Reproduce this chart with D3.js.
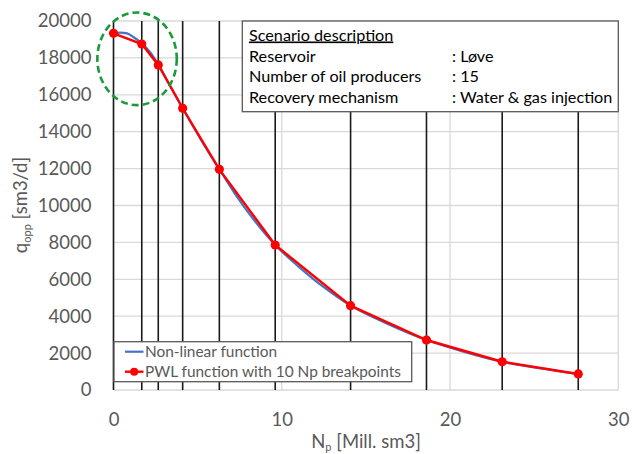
<!DOCTYPE html>
<html>
<head>
<meta charset="utf-8">
<script src="https://cdn.jsdelivr.net/npm/d3@7/dist/d3.min.js"></script>
<style>
  html, body { margin: 0; padding: 0; background: #fff; }
  svg { display: block; font-family: Lato, "Open Sans", sans-serif; }
</style>
</head>
<body>
<svg id="chart" width="643" height="454"></svg>
<script>
// Cumulative oil production breakpoints (Mill. sm3) and PWL rates (sm3/d)
const npBreakpoints = [0, 1.68, 2.66, 4.11, 6.29, 9.61, 14.09, 18.6, 23.1, 27.62];
const pwlRates      = [19330, 18750, 17620, 15270, 11960, 7860, 4570, 2710, 1530, 870];

// Non-linear potential curve samples
const curveNp   = [0, 0.4, 0.8, 1.2, 1.68, 2.2, 2.66, 3.4, 4.11, 5.2, 6.29, 7.2, 8.4, 9.61,
                   11, 12.5, 14.09, 16.3, 18.6, 20.8, 23.1, 25.4, 27.62];
const curveRate = [19300, 19370, 19330, 19120, 18790, 18290, 17650, 16440, 15270, 13560, 11960,
                   10660, 9160, 7860, 6690, 5570, 4570, 3580, 2710, 2080, 1530, 1170, 867];

const xTicks = [0, 10, 20, 30];
const yTicks = [0, 2000, 4000, 6000, 8000, 10000, 12000, 14000, 16000, 18000, 20000];

const scenarioTitle = "Scenario description";
const scenarioRows = [
  ["Reservoir", ": Løve"],
  ["Number of oil producers", ": 15"],
  ["Recovery mechanism", ": Water & gas injection"]
];
const legendItems = ["Non-linear function", "PWL function with 10 Np breakpoints"];

// Highlighted region (data units): centre and radii
const highlight = { np: 1.4, rate: 17950, npRadius: 2.36, rateRadius: 2510 };

const svg = d3.select("#chart");
const plot = { left: 113.5, right: 618.3, top: 21, bottom: 390 };

const x = d3.scaleLinear().domain([0, 30]).range([plot.left, plot.right]);
const y = d3.scaleLinear().domain([0, 20000]).range([plot.bottom, plot.top]);

const gridColor = "#d9d9d9";
const textGray = "#595959";

// Gridlines
const grid = svg.append("g");
grid.selectAll("line.h").data(yTicks).join("line")
  .attr("x1", plot.left).attr("x2", plot.right)
  .attr("y1", d => y(d)).attr("y2", d => y(d))
  .attr("stroke", gridColor).attr("stroke-width", 1.3);
grid.selectAll("line.v").data(xTicks).join("line")
  .attr("x1", d => x(d)).attr("x2", d => x(d))
  .attr("y1", plot.top).attr("y2", plot.bottom)
  .attr("stroke", gridColor).attr("stroke-width", 1.3);

// Axes (labels only)
const yAxis = svg.append("g")
  .attr("transform", `translate(${plot.left},0)`)
  .call(d3.axisLeft(y).tickValues(yTicks).tickFormat(d3.format("d")).tickSize(0).tickPadding(22));
yAxis.select(".domain").remove();
yAxis.selectAll("text").attr("fill", textGray).style("font-size", "18.5px")
  .style("font-family", "Lato, 'Open Sans', sans-serif");

const xAxis = svg.append("g")
  .attr("transform", `translate(0,${plot.bottom})`)
  .call(d3.axisBottom(x).tickValues(xTicks).tickFormat(d3.format("d")).tickSize(0).tickPadding(23));
xAxis.select(".domain").remove();
xAxis.selectAll("text").attr("fill", textGray).style("font-size", "18.5px")
  .style("font-family", "Lato, 'Open Sans', sans-serif");

// Breakpoint verticals
svg.append("g").selectAll("line").data(npBreakpoints).join("line")
  .attr("x1", d => x(d)).attr("x2", d => x(d))
  .attr("y1", plot.top).attr("y2", plot.bottom)
  .attr("stroke", "#1a1a1a").attr("stroke-width", 1.6);

// Scenario description box
const boxX = 242.3, boxY = 21, boxW = 376, boxH = 90.7;
svg.append("rect").attr("x", boxX).attr("y", boxY).attr("width", boxW).attr("height", boxH)
  .attr("fill", "#fff").attr("stroke", "#595959").attr("stroke-width", 1.3);
const scen = svg.append("g").style("font-size", "16.2px").attr("fill", "#000");
scen.append("text").attr("x", 249).attr("y", 40.5).text(scenarioTitle)
  .style("text-decoration", "underline");
scenarioRows.forEach((r, i) => {
  scen.append("text").attr("x", 249).attr("y", 61.5 + i * 20.7).text(r[0]);
  scen.append("text").attr("x", 452).attr("y", 61.5 + i * 20.7).text(r[1]);
});

// Curves
const curveLine = d3.line().x(d => x(d[0])).y(d => y(d[1])).curve(d3.curveMonotoneX);
svg.append("path").datum(d3.zip(curveNp, curveRate))
  .attr("d", curveLine).attr("fill", "none")
  .attr("stroke", "#4472c4").attr("stroke-width", 2.2);

const pwlLine = d3.line().x(d => x(d[0])).y(d => y(d[1]));
const pwl = d3.zip(npBreakpoints, pwlRates);
svg.append("path").datum(pwl).attr("d", pwlLine).attr("fill", "none")
  .attr("stroke", "#ff0000").attr("stroke-width", 2.4);
svg.append("g").selectAll("circle").data(pwl).join("circle")
  .attr("cx", d => x(d[0])).attr("cy", d => y(d[1])).attr("r", 4.6)
  .attr("fill", "#ff0000");

// Highlight ellipse
svg.append("ellipse")
  .attr("cx", x(highlight.np)).attr("cy", y(highlight.rate))
  .attr("rx", x(highlight.npRadius) - x(0)).attr("ry", y(0) - y(highlight.rateRadius))
  .attr("fill", "none").attr("stroke", "#1a9a3a").attr("stroke-width", 2.6)
  .attr("stroke-dasharray", "7,4");

// Legend
const lg = svg.append("g");
lg.append("rect").attr("x", 114).attr("y", 341.7).attr("width", 297.7).attr("height", 40)
  .attr("fill", "#fff").attr("stroke", "#595959").attr("stroke-width", 1.3);
lg.append("line").attr("x1", 125).attr("x2", 143.5).attr("y1", 351.7).attr("y2", 351.7)
  .attr("stroke", "#4472c4").attr("stroke-width", 2.2);
lg.append("line").attr("x1", 125).attr("x2", 143.5).attr("y1", 371.7).attr("y2", 371.7)
  .attr("stroke", "#ff0000").attr("stroke-width", 2.4);
lg.append("circle").attr("cx", 134.2).attr("cy", 371.7).attr("r", 4).attr("fill", "#ff0000");
legendItems.forEach((t, i) => {
  lg.append("text").attr("x", 145).attr("y", 357 + i * 20).text(t)
    .attr("fill", textGray).style("font-size", "15.4px");
});

// Axis titles
const yt = svg.append("text")
  .attr("transform", "translate(27,205) rotate(-90)")
  .attr("text-anchor", "middle").attr("fill", textGray).style("font-size", "18.5px");
yt.append("tspan").text("q");
yt.append("tspan").text("opp").style("font-size", "11px").attr("dy", 4);
yt.append("tspan").text(" [sm3/d]").attr("dy", -4);

const xt = svg.append("text")
  .attr("x", 366).attr("y", 448)
  .attr("text-anchor", "middle").attr("fill", textGray).style("font-size", "18.5px");
xt.append("tspan").text("N");
xt.append("tspan").text("p").style("font-size", "11px").attr("dy", 3);
xt.append("tspan").text(" [Mill. sm3]").attr("dy", -3);
</script>
</body>
</html>
